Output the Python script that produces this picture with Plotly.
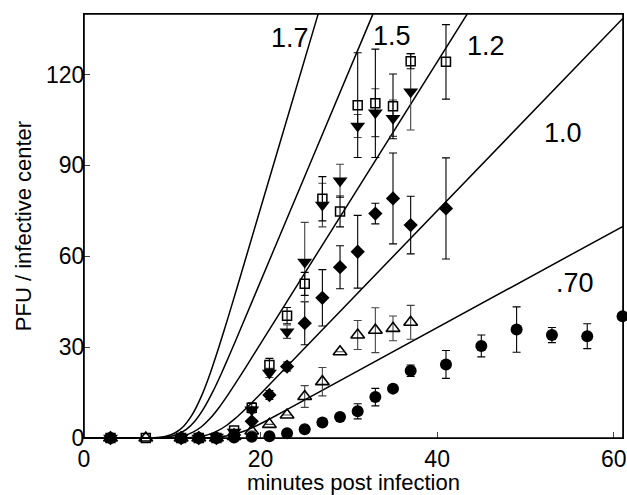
import plotly.graph_objects as go

# ---- data ----
t_circle = [3, 11, 13, 15, 17, 19, 21, 23, 25, 27, 29, 31, 33, 35, 37, 41, 45, 49, 53, 57, 61]
y_circle = [0, 0, 0, 0, 0.2, 0.4, 0.6, 1.6, 2.9, 5.1, 6.9, 8.8, 13.5, 16.3, 22.2, 24.3, 30.4, 35.8, 34.0, 33.6, 40.2]
e_circle = [0, 0, 0, 0, 0, 0, 0, 0, 0, 0, 0, 2.5, 2.9, 0, 1.9, 4.6, 3.6, 7.5, 2.5, 4.1, 0]

t_triup = [3, 7, 11, 13, 15, 17, 19, 21, 23, 25, 27, 29, 31, 33, 35, 37]
y_triup = [0, 0, 0, 0, 0, 0.5, 2.3, 4.5, 7.6, 13.7, 18.6, 28.5, 34.0, 35.6, 36.2, 38.2]
e_triup = [0, 0, 0, 0, 0, 0, 0, 0, 0, 3.6, 4.7, 0, 4.8, 7.4, 4.1, 5.6]

t_diam = [3, 11, 13, 15, 17, 19, 21, 23, 25, 27, 29, 31, 33, 35, 37, 41]
y_diam = [0, 0, 0, 0, 1.0, 5.5, 14.2, 23.6, 37.9, 46.3, 56.4, 61.5, 74.1, 79.1, 70.3, 75.8]
e_diam = [0, 0, 0, 0, 0, 0, 1.5, 1.5, 7.1, 9.3, 7.1, 12.0, 3.4, 15.0, 9.5, 16.7]

t_tridn = [3, 11, 13, 15, 17, 19, 21, 23, 25, 27, 29, 31, 33, 35, 37]
y_tridn = [0, 0, 0, 0.3, 2.0, 9.3, 21.5, 35.1, 58.1, 76.9, 84.9, 103.0, 107.4, 105.6, 114.3]
e_tridn = [0, 0, 0, 0, 0, 1.0, 1.5, 2.2, 13.1, 7.2, 5.5, 3.8, 7.9, 6.0, 12.6]

t_sq = [3, 7, 11, 13, 15, 17, 19, 21, 23, 25, 27, 29, 31, 33, 35, 37, 41]
y_sq = [0, 0, 0, 0, 0, 2.5, 10.0, 24.1, 40.4, 50.9, 79.0, 74.8, 109.9, 110.5, 109.5, 124.4, 124.2]
e_sq = [0, 0, 0, 0, 0, 0, 1.6, 2.2, 2.7, 3.8, 7.3, 5.1, 17.3, 17.9, 10.7, 2.5, 12.3]

# model curves
t_c17 = [0, 7.29, 8.29, 9.29, 10.29, 11.29, 12.29, 13.29, 14.29, 15.29, 16.29, 17.29, 26.5, 27.5]
y_c17 = [0, 0.04, 0.17, 0.58, 1.64, 3.89, 7.85, 13.73, 21.32, 30.1, 39.5, 49.2, 139.8, 149.6]
t_c15 = [0, 7.55, 8.55, 9.55, 10.55, 11.55, 12.55, 13.55, 14.55, 15.55, 16.55, 17.55, 32.7, 33.7]
y_c15 = [0, 0.03, 0.12, 0.41, 1.16, 2.75, 5.54, 9.69, 15.04, 21.23, 27.88, 34.73, 139.8, 146.7]
t_c12 = [0, 8.3, 9.3, 10.3, 11.3, 12.3, 13.3, 14.3, 15.3, 16.3, 17.3, 18.3, 43.4, 44.4]
y_c12 = [0, 0.02, 0.08, 0.27, 0.77, 1.84, 3.71, 6.49, 10.07, 14.22, 18.68, 23.27, 139.97, 144.6]
t_c10 = [0, 10.17, 11.17, 12.17, 13.17, 14.17, 15.17, 16.17, 17.17, 18.17, 19.17, 20.17, 61.05]
y_c10 = [0, 0.01, 0.05, 0.18, 0.50, 1.20, 2.41, 4.21, 6.54, 9.24, 12.13, 15.11, 138.6]
t_c07 = [0, 12.1, 13.1, 14.1, 15.1, 16.1, 17.1, 18.1, 19.1, 20.1, 21.1, 22.1, 61.05]
y_c07 = [0, 0.01, 0.03, 0.09, 0.26, 0.63, 1.27, 2.22, 3.44, 4.86, 6.39, 7.96, 69.9]

curve_labels = ["1.7", "1.5", "1.2", "1.0", ".70"]
label_t = [23.3, 34.9, 45.5, 54.2, 55.6]
label_y = [132.2, 132.6, 129.3, 100.8, 51.3]

x_ticks = [0, 20, 40, 60]
y_ticks = [0, 30, 60, 90, 120]

FONT = "Liberation Sans, Arial, Helvetica, sans-serif"

fig = go.Figure()

for tx, ty in [(t_c17, y_c17), (t_c15, y_c15), (t_c12, y_c12), (t_c10, y_c10), (t_c07, y_c07)]:
    fig.add_trace(go.Scatter(x=tx, y=ty, mode="lines",
                             line=dict(color="black", width=1.5, shape="spline", smoothing=0.6),
                             hoverinfo="skip", showlegend=False))

def err(e, col="black"):
    return dict(type="data", array=e, visible=True, color=col, thickness=1.1, width=4)

fig.add_trace(go.Scatter(x=t_circle, y=y_circle, mode="markers", error_y=err(e_circle),
                         marker=dict(symbol="circle", size=12, color="black"),
                         showlegend=False, cliponaxis=False))
fig.add_trace(go.Scatter(x=t_triup, y=y_triup, mode="markers", error_y=err(e_triup, "#444"),
                         marker=dict(symbol="triangle-up-open", size=12, color="black",
                                     line=dict(width=1.6, color="black")),
                         showlegend=False, cliponaxis=False))
fig.add_trace(go.Scatter(x=t_diam, y=y_diam, mode="markers", error_y=err(e_diam),
                         marker=dict(symbol="diamond", size=11, color="black"),
                         showlegend=False, cliponaxis=False))
fig.add_trace(go.Scatter(x=t_tridn, y=y_tridn, mode="markers", error_y=err(e_tridn, "#444"),
                         marker=dict(symbol="triangle-down", size=13, color="black"),
                         showlegend=False, cliponaxis=False))
fig.add_trace(go.Scatter(x=t_sq, y=y_sq, mode="markers", error_y=err(e_sq),
                         marker=dict(symbol="square-open", size=9, color="black",
                                     line=dict(width=1.5, color="black")),
                         showlegend=False, cliponaxis=False))

for lab, lx, ly in zip(curve_labels, label_t, label_y):
    fig.add_annotation(x=lx, y=ly, text=lab, showarrow=False,
                       font=dict(size=27, color="black", family=FONT))

# plot frame (drawn in axis-domain coordinates)
fig.add_shape(type="rect", xref="x domain", yref="y domain", x0=0, x1=1, y0=0, y1=1,
              line=dict(color="black", width=1.6), fillcolor="rgba(0,0,0,0)", layer="above")

fig.update_layout(
    width=627, height=495,
    margin=dict(l=84, r=4, t=14, b=57, autoexpand=False),
    paper_bgcolor="white", plot_bgcolor="white",
    font=dict(family=FONT, color="black"),
    xaxis=dict(range=[0, 61.05], tickvals=x_ticks, ticks="inside", ticklen=6, tickwidth=1,
               showline=True, linecolor="black", linewidth=1.3, mirror=True,
               showgrid=False, zeroline=False, tickfont=dict(size=23), automargin=False,
               ticklabeloverflow="allow",
               title=dict(text="minutes post infection", font=dict(size=22), standoff=2)),
    yaxis=dict(range=[0, 140], tickvals=y_ticks, ticks="inside", ticklen=6, tickwidth=1,
               showline=True, linecolor="black", linewidth=1.3, mirror=True,
               showgrid=False, zeroline=False, tickfont=dict(size=23), automargin=False,
               ticklabelstandoff=-6,
               title=dict(text="PFU / infective center", font=dict(size=22), standoff=8)),
)

# remove the page's default body margin so the 627x495 figure fills the window exactly
fig.write_html("out.html", config={"displayModeBar": False},
               post_script="document.body.style.margin='0';document.body.style.overflow='hidden';")
